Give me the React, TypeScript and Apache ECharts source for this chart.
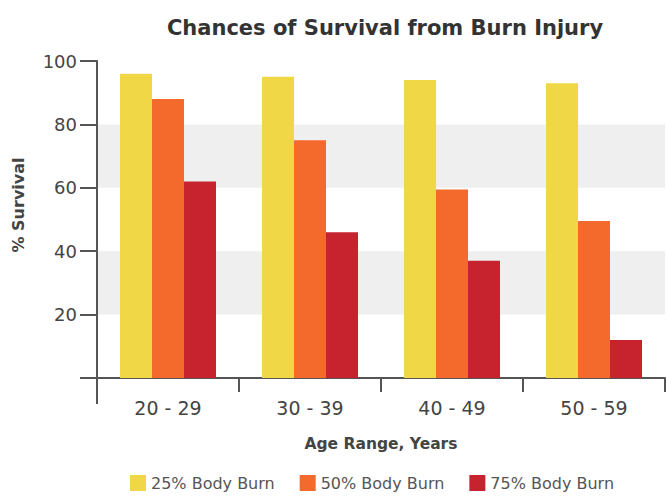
import React, { useEffect, useRef } from "react";
import * as echarts from "echarts";

const categories = ["20 - 29", "30 - 39", "40 - 49", "50 - 59"];
const seriesNames = ["25% Body Burn", "50% Body Burn", "75% Body Burn"];
const burn25 = [96, 95, 94, 93];
const burn50 = [88, 75, 59.5, 49.5];
const burn75 = [62, 46, 37, 12];
const yTicks = [0, 20, 40, 60, 80, 100];

const colors = ["#F0D746", "#F4692C", "#C6232E"];
const FONT = "DejaVu Sans";
const GRID = { left: 97, right: 2, top: 61, bottom: 118 };

export default function App() {
  const ref = useRef<HTMLDivElement>(null);
  useEffect(() => {
    if (!ref.current) return;
    const chart = echarts.init(ref.current, null, { renderer: "svg" });
    const axisY = 496 - GRID.bottom;
    chart.setOption({
      animation: false,
      backgroundColor: "#ffffff",
      title: {
        text: "Chances of Survival from Burn Injury",
        left: 380,
        textAlign: "center",
        top: 12,
        textStyle: { fontFamily: FONT, fontWeight: "bold", fontSize: 21, color: "#333" },
      },
      legend: {
        data: seriesNames,
        left: 125,
        top: 470,
        icon: "rect",
        itemWidth: 16,
        itemHeight: 16,
        itemGap: 25,
        textStyle: { fontFamily: FONT, fontSize: 16, color: "#555" },
      },
      grid: { ...GRID, containLabel: false },
      xAxis: {
        type: "category",
        data: categories,
        name: "Age Range, Years",
        nameLocation: "middle",
        nameGap: 58,
        nameTextStyle: { fontFamily: FONT, fontWeight: "bold", fontSize: 15.5, color: "#444" },
        axisLine: { lineStyle: { color: "#555", width: 2 } },
        axisTick: { show: true, length: 14, lineStyle: { color: "#555", width: 2 } },
        axisLabel: { fontFamily: FONT, fontSize: 19, color: "#444", margin: 20 },
      },
      yAxis: {
        type: "value",
        min: yTicks[0],
        max: yTicks[yTicks.length - 1],
        interval: 20,
        axisLine: { show: true, lineStyle: { color: "#555", width: 2 } },
        axisTick: { show: true, length: 17, lineStyle: { color: "#555", width: 2 } },
        axisLabel: {
          fontFamily: FONT,
          fontSize: 18,
          color: "#444",
          margin: 20,
          formatter: (v: number) => (v === 0 ? "" : String(v)),
        },
        splitLine: { show: false },
        splitArea: { show: true, areaStyle: { color: ["rgba(0,0,0,0)", "#EFEFEF"] } },
      },
      graphic: [
        {
          type: "line",
          shape: { x1: GRID.left, y1: axisY, x2: GRID.left, y2: axisY + 26 },
          style: { stroke: "#555", lineWidth: 2 },
        },
        {
          type: "text",
          x: 18,
          y: 205,
          rotation: Math.PI / 2,
          style: {
            text: "% Survival",
            fontFamily: FONT,
            fontWeight: "bold",
            fontSize: 16,
            fill: "#444",
            align: "center",
            verticalAlign: "middle",
          },
        },
      ],
      series: [burn25, burn50, burn75].map((d, i) => ({
        name: seriesNames[i],
        type: "bar",
        data: d,
        barWidth: 32,
        barGap: "0%",
        itemStyle: { color: colors[i] },
      })),
    });
    return () => chart.dispose();
  }, []);
  return (
    <div
      ref={ref}
      style={{ position: "fixed", left: 0, top: 0, width: 667, height: 496 }}
    />
  );
}
